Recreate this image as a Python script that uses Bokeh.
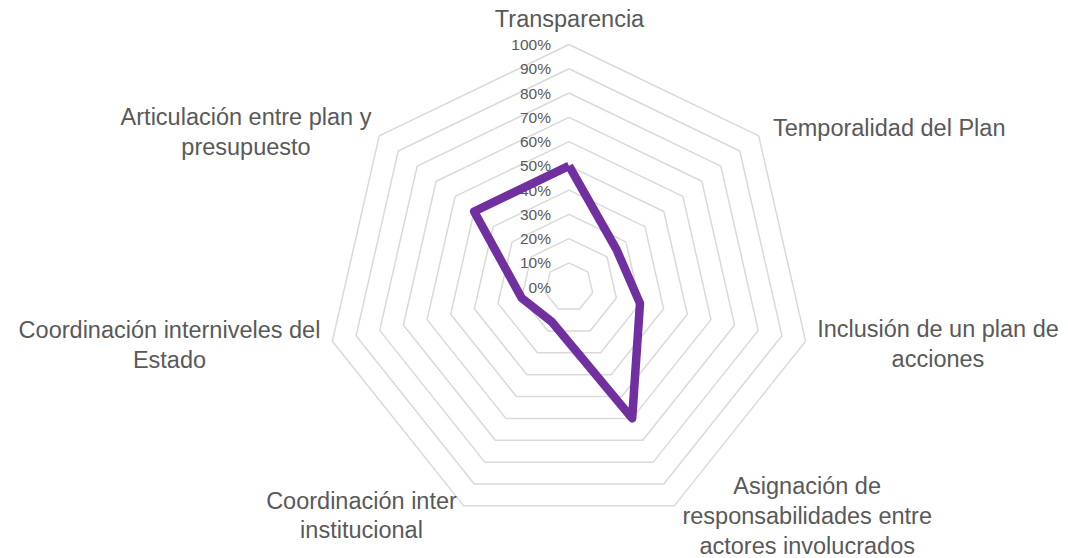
import math
from bokeh.plotting import figure
from bokeh.models import Range1d
from bokeh.core.properties import value
from bokeh.embed import file_html
from bokeh.resources import INLINE

# ---- data ----
categories = [
    "Transparencia",
    "Temporalidad del Plan",
    "Inclusión de un plan de\nacciones",
    "Asignación de\nresponsabilidades entre\nactores involucrados",
    "Coordinación inter\ninstitucional",
    "Coordinación interniveles del\nEstado",
    "Articulación entre plan y\npresupuesto",
]
values = [0.50, 0.25, 0.30, 0.60, 0.16, 0.20, 0.50]
ticks = [0.0, 0.1, 0.2, 0.3, 0.4, 0.5, 0.6, 0.7, 0.8, 0.9, 1.0]
tick_labels = ["0%", "10%", "20%", "30%", "40%", "50%", "60%", "70%", "80%", "90%", "100%"]

# ---- layout ----
W, H = 1068, 558
CX, CY = 568.5, H - 286.7   # chart centre in figure units (y up)
R = 242.7                   # radius of the 100% ring
# label block centres in page pixels
label_pos = [(569, 18), (888.7, 127.5), (937.5, 343.8), (806.7, 515.5),
             (361, 515), (169, 344.7), (245.5, 131.4)]

TEXT = "#595959"
FONT = value("Liberation Sans")

n = len(categories)
ang = [2 * math.pi * i / n for i in range(n)]

def pt(v, a):
    return CX + R * v * math.sin(a), CY + R * v * math.cos(a)

p = figure(width=W, height=H, x_range=Range1d(0, W), y_range=Range1d(0, H),
           output_backend="svg", toolbar_location=None, min_border=0,
           x_axis_type=None, y_axis_type=None)
p.grid.visible = False
p.outline_line_color = None
p.background_fill_color = "white"
p.border_fill_color = "white"

# grid rings
xs, ys = [], []
for t in ticks[1:]:
    pts = [pt(t, a) for a in ang] + [pt(t, ang[0])]
    xs.append([q[0] for q in pts])
    ys.append([q[1] for q in pts])
p.multi_line(xs, ys, line_color="#d9d9d9", line_width=1.5)

# tick labels
tx = [CX - 18 for _ in ticks]
ty = [CY + R * t for t in ticks]
p.text(tx, ty, text=tick_labels, text_align="right", text_baseline="middle",
       text_font=FONT, text_font_size="15.5px", text_color=TEXT)

# data series
sp = [pt(v, a) for v, a in zip(values, ang)]
sp.append(sp[0])
p.line([q[0] for q in sp], [q[1] for q in sp], line_color="#7030A0",
       line_width=8.5, line_join="round")

# category labels
lx = [q[0] for q in label_pos]
ly = [H - q[1] for q in label_pos]
p.text(lx, ly, text=categories, text_align="center", text_baseline="middle",
       text_font=FONT, text_font_size="23.5px", text_color=TEXT,
       text_line_height=1.15)

open("out.html", "w").write(file_html(p, INLINE))
